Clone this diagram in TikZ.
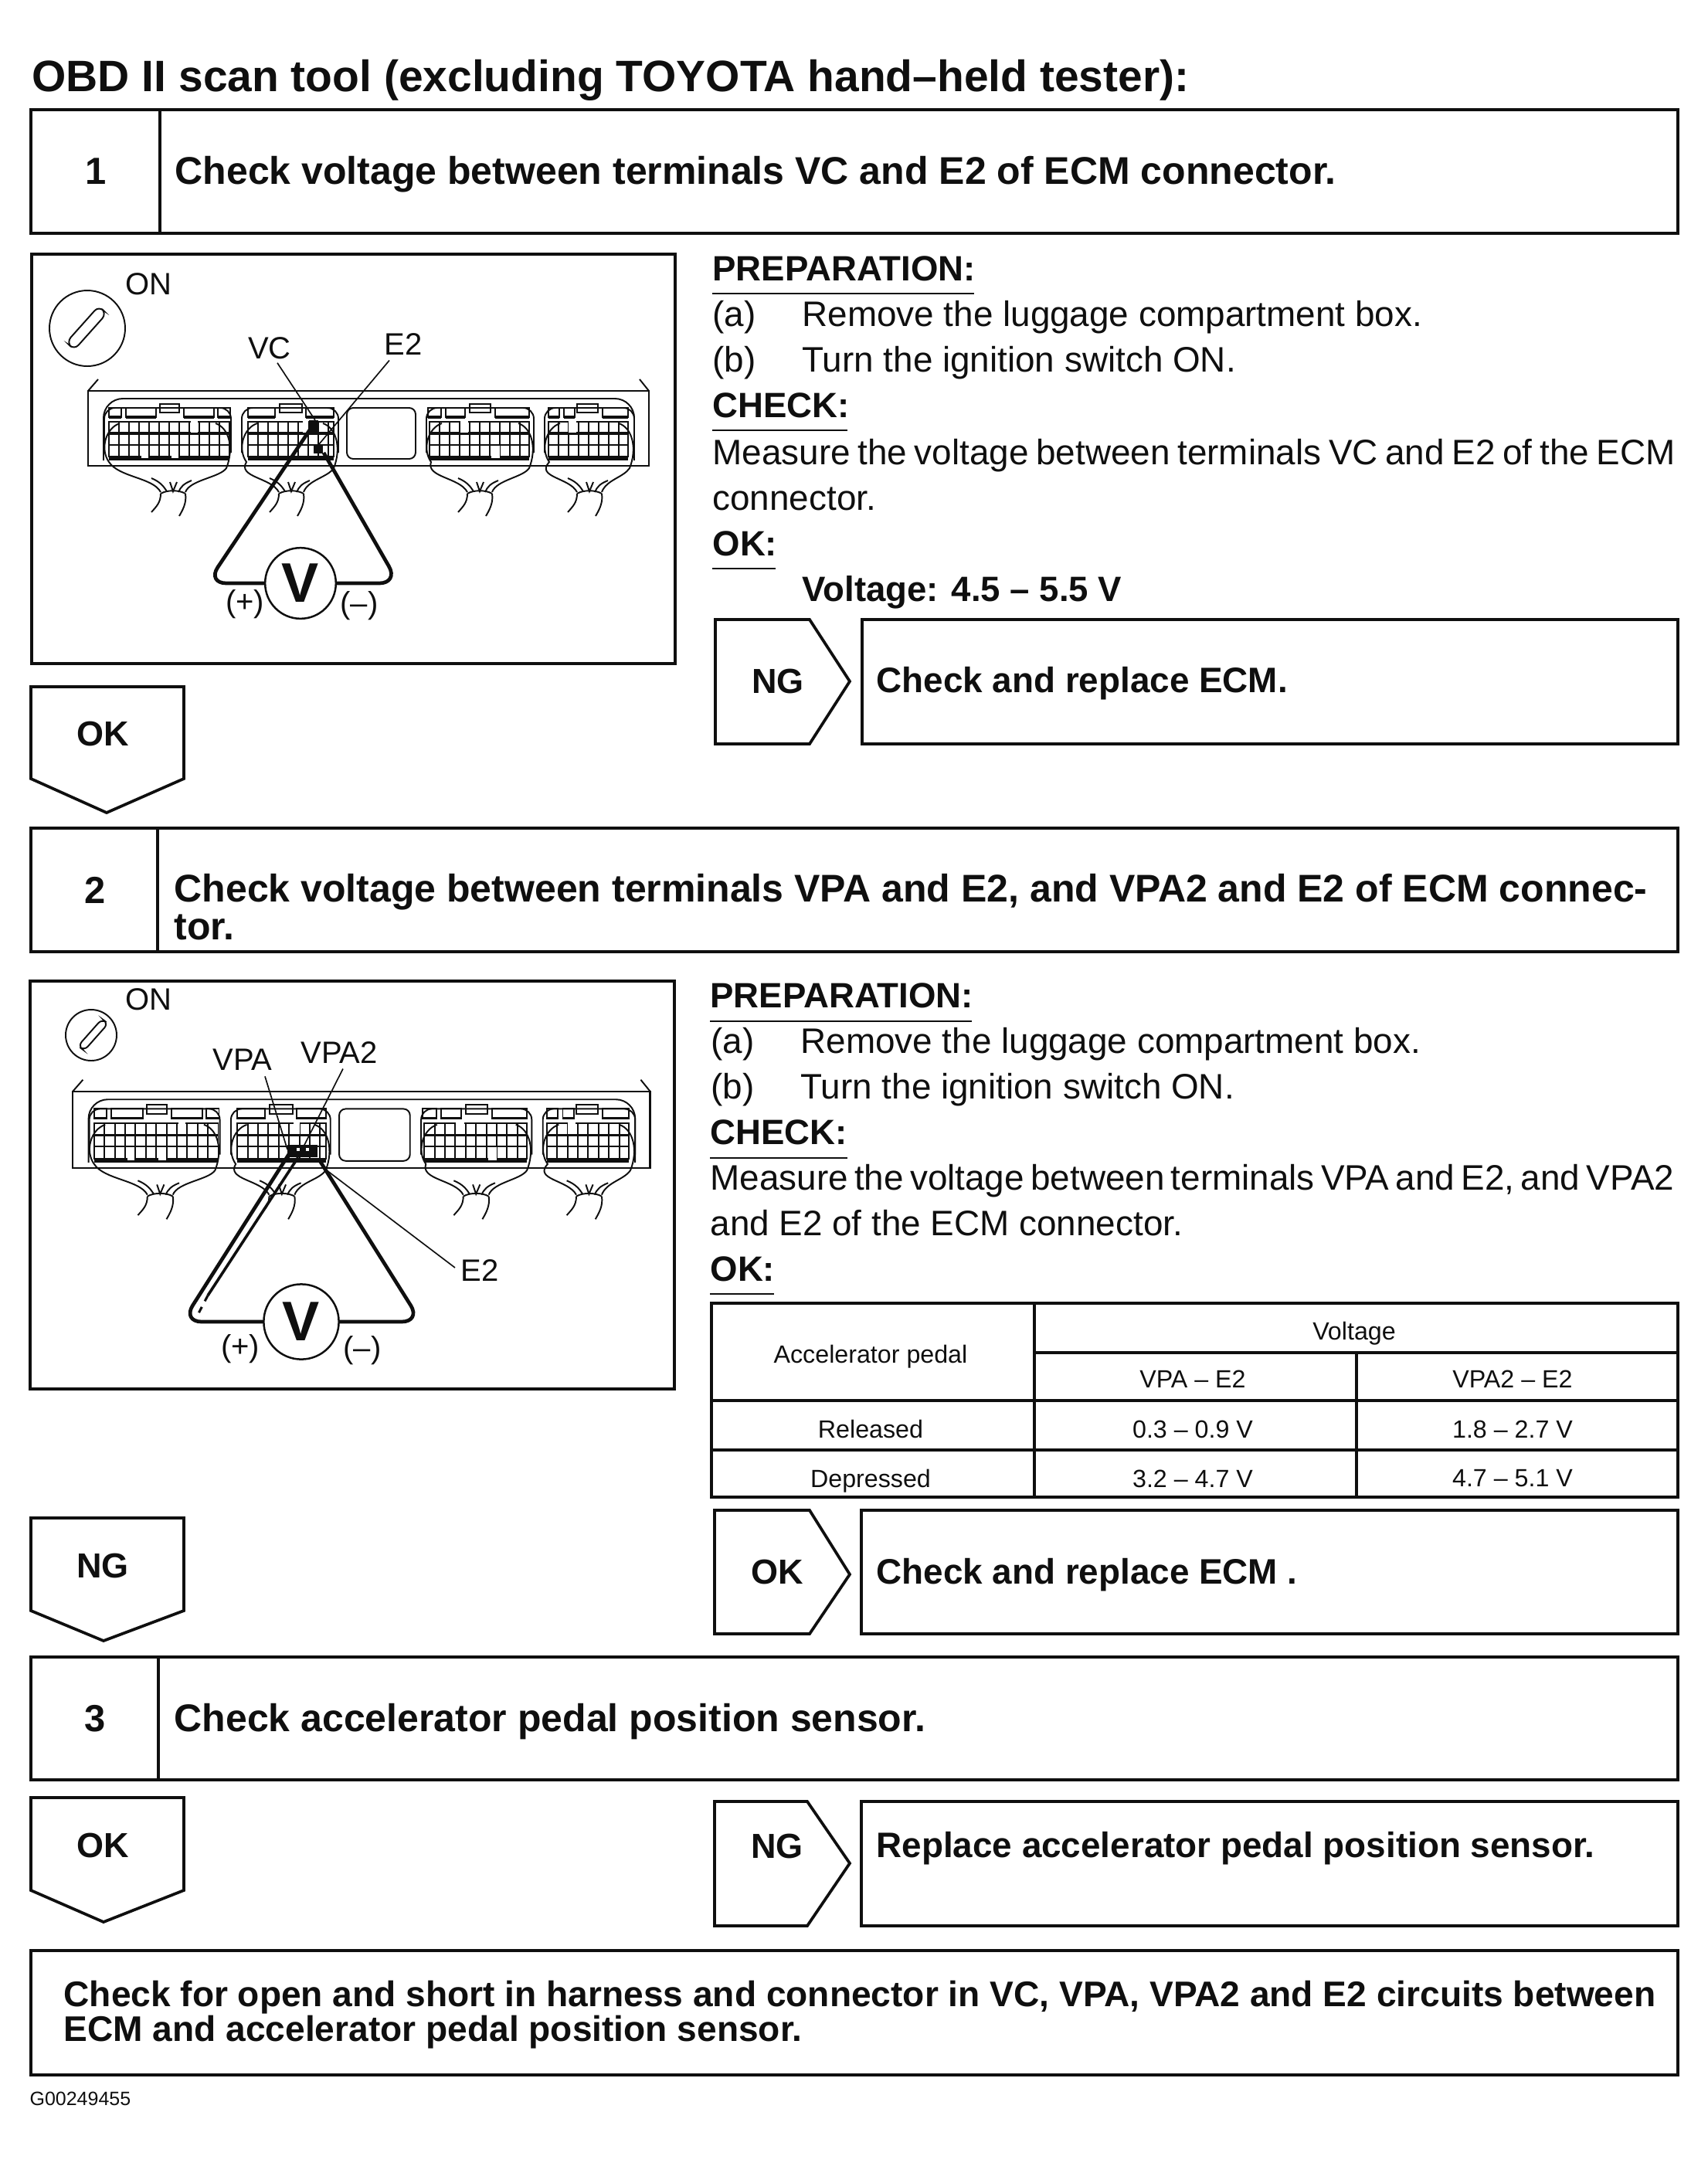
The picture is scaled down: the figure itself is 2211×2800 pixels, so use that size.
\documentclass[tikz,border=0pt]{standalone}
\usepackage{fontspec}
\setmainfont{Liberation Sans}
\usepackage{xcolor}
\definecolor{ink}{RGB}{15,15,15}

% one loom leaving an ECU connector: left, right, sleeve centre
\newcommand{\harness}[3]{%
  \draw[eculine] (#1+20,42) .. controls (#1+2,48) and (#1-6,75) .. (#1+6,92)
    .. controls (#3-70,112) and (#3-26,112) .. (#3-16,131);
  \draw[eculine] (#2-20,42) .. controls (#2-2,48) and (#2+4,75) .. (#2-6,100)
    .. controls (#2-14,112) and (#3+22,115) .. (#3+16,131);
  \draw[eculine] (#3-16,133) .. controls (#3-8,128) and (#3+8,128) .. (#3+16,133);
  \draw[eculine] (#3-16,133) .. controls (#3-16,145) and (#3-22,150) .. (#3-28,157);
  \draw[eculine] (#3+16,133) .. controls (#3+18,145) and (#3+12,155) .. (#3+8,162);
  \draw[eculine] (#3-28,113) .. controls (#3-16,118) and (#3-12,124) .. (#3-8,130);
  \draw[eculine] (#3-4,118) -- (#3,130) -- (#3+5,118);
  \draw[eculine] (#3+24,116) .. controls (#3+14,120) and (#3+10,124) .. (#3+7,131);
}
% cavity grid of a connector
\newcommand{\pingrid}[2]{%
  \draw[eculine] (#1,40) rectangle (#2,85);
  \draw[eculine, line width=1.1pt] (#1,55) -- (#2,55);
  \draw[eculine] (#1,70) -- (#2,70);
  \pgfmathtruncatemacro{\ncols}{(#2-#1)/13}
  \foreach \k in {1,...,\ncols} \draw[eculine] ({#1+13*\k},40) -- ({#1+13*\k},85);
  \draw[eculine, line width=1.6pt] (#1,88) -- (#2,88);
}
% whole ECU front, drawn from its top left corner
\newcommand{\ecubody}{%
  \draw[eculine] (0,0) -- (13,-15);
  \draw[eculine] (726,0) -- (714,-15);
  \draw[eculine, line width=1pt] (0,0) rectangle (726,97);
  \draw[eculine, rounded corners=9] (20,90) -- (20,10) -- (707,10) -- (707,90);
  \draw[eculine, rounded corners=3] (335,22) rectangle (424,88);
  \foreach \la/\lb in {21/185, 199/324, 438/577, 591/707}
    \draw[eculine, rounded corners=5] (\la,80) -- (\la,22) -- (\lb,22) -- (\lb,80);
  \pingrid{27}{183}
  \pingrid{207}{318}
  \pingrid{442}{571}
  \pingrid{596}{699}
  % missing cavities
  \foreach \ga/\gb in {132/143, 277/286, 481/493, 621/633}
    \fill[white] (\ga+1,38) rectangle (\gb-1,54);
  \foreach \ga/\gb in {68/79, 107/118, 521/534}
    \fill[white] (\ga+1,71) rectangle (\gb-1,87);
  % latches
  \foreach \ga/\gb in {27/43, 49/88, 124/163, 168/184, 207/242, 282/318, 440/457, 463/488, 527/571, 596/610, 616/630, 666/699} {
    \draw[eculine] (\ga,22) rectangle (\gb,34);
    \draw[eculine, line width=1.2pt] (\ga,34) -- (\gb,34);
  }
  \foreach \ga/\gb in {93/118, 248/277, 494/521, 633/660}
    \draw[eculine] (\ga,17) rectangle (\gb,28);
  \harness{21}{185}{110}
  \harness{199}{324}{263}
  \harness{438}{577}{507}
  \harness{591}{707}{649}
}

\begin{document}
\begin{tikzpicture}[x=0.36pt, y=-0.36pt,
    frame/.style={draw=ink, line width=1.35pt},
    eculine/.style={draw=ink, line width=0.7pt},
    probe/.style={draw=ink, line width=1.7pt, rounded corners=9pt},
    leader/.style={draw=ink, line width=0.6pt},
    heading/.style={inner sep=0, anchor=base west, text=ink, font=\fontsize{18pt}{18pt}\selectfont\bfseries},
    result/.style={inner sep=0, anchor=base west, text=ink, font=\fontsize{16.5pt}{18pt}\selectfont\bfseries},
    numlabel/.style={inner sep=0, text=ink, font=\fontsize{17.6pt}{18pt}\selectfont\bfseries},
    taglabel/.style={inner sep=0, text=ink, font=\fontsize{16.2pt}{18pt}\selectfont\bfseries},
    bodytext/.style={inner sep=0, anchor=base west, text=ink, align=left, font=\fontsize{16.5pt}{21.4pt}\selectfont},
    subhead/.style={inner sep=0, anchor=base west, text=ink, font=\fontsize{16.4pt}{21.4pt}\selectfont\bfseries},
    callout/.style={inner sep=0, text=ink, font=\fontsize{14.4pt}{16pt}\selectfont},
    cell/.style={inner sep=0, text=ink, font=\fontsize{11.6pt}{14pt}\selectfont},
    meter/.style={circle, draw=ink, line width=0.9pt, inner sep=0, minimum size=33pt, text=ink, font=\fontsize{26pt}{28pt}\selectfont\bfseries}]
  \useasboundingbox (0,0) rectangle (2211,2800);

  \node[inner sep=0, anchor=base west, text=ink, font=\fontsize{20.5pt}{24pt}\selectfont\bfseries] (title) at (41,118)
    {OBD II scan tool (excluding TOYOTA hand–held tester):};

  % Step 1
  \draw[frame] (40,142) rectangle (2172,302);
  \draw[frame] (207,142) -- (207,302);
  \node[numlabel] (num1) at (124,222) {1};
  \node[heading] (head1) at (226,238) {Check voltage between terminals VC and E2 of ECM connector.};

  % Wiring picture 1
  \draw[frame] (41,329) rectangle (874,859);
  \draw[eculine] (113,425) circle (49);
  \draw[eculine, rounded corners=3pt] (86,443) -- (128,396) -- (138,406) -- (96,453) -- cycle;
  \node[callout] (on1) at (192,368) {ON};
  \begin{scope}[shift={(114,506)}]
    \ecubody
    \fill[ink] (286,38) rectangle (298,53);
    \fill[ink] (292,71) rectangle (304,81);
  \end{scope}
  \node[callout] (vc) at (349,451) {VC};
  \node[callout] (e2a) at (522,446) {E2};
  \coordinate (vcpin) at (408,544);
  \coordinate (e2pin) at (413,575);
  \draw[leader] (vc.south) ++(10,4) -- (vcpin);
  \draw[leader] (e2a.south) ++(-18,6) -- (e2pin);
  \node[meter] (vm1) at (389,755) {V};
  \draw[probe] (vm1.west) -- (268,755) -- (408,546);
  \draw[probe] (vm1.east) -- (516,755) -- (419,586);
  \node[callout] (plus1) at (317,782) {(+)};
  \node[callout] (minus1) at (465,784) {(–)};

  % Preparation 1
  \node[subhead] (prep1) at (922,363) {PREPARATION:};
  \draw[eculine, line width=0.9pt] (922,380) -- (1261,380);
  \node[bodytext] (a1) at (922,422) {(a)};
  \node[bodytext] (a1t) at (1038,422) {Remove the luggage compartment box.};
  \node[bodytext] (b1) at (922,481) {(b)};
  \node[bodytext] (b1t) at (1038,481) {Turn the ignition switch ON.};
  \node[subhead] (check1) at (922,540) {CHECK:};
  \draw[eculine, line width=0.9pt] (922,557) -- (1097,557);
  \node[bodytext] (meas1) at (922,601) {\spaceskip=3.5pt\relax Measure the voltage between terminals VC and E2 of the ECM};
  \node[bodytext] (meas1b) at (922,660) {connector.};
  \node[subhead] (ok1) at (922,719) {OK:};
  \draw[eculine, line width=0.9pt] (922,736) -- (1004,736);
  \node[subhead] (volt1) at (1038,778) {Voltage: 4.5 – 5.5 V};

  % Result 1
  \node[taglabel] (ngtag1) at (1007,882) {NG};
  \draw[frame] (926,802) -- (1048,802) -- (1100,882) -- (1048,963) -- (926,963) -- cycle;
  \draw[frame] (1116,802) rectangle (2172,963);
  \node[result] (res1) at (1134,896) {Check and replace ECM.};
  \node[taglabel] (oktag1) at (133,950) {OK};
  \draw[frame] (40,889) -- (238,889) -- (238,1008) -- (138,1052) -- (40,1008) -- cycle;

  % Step 2
  \draw[frame] (40,1072) rectangle (2172,1232);
  \draw[frame] (204,1072) -- (204,1232);
  \node[numlabel] (num2) at (123,1152) {2};
  \node[heading] (head2) at (225,1167) {Check voltage between terminals VPA and E2, and VPA2 and E2 of ECM connec-};
  \node[heading] (head2b) at (225,1216) {tor.};

  % Wiring picture 2
  \draw[frame] (39,1270) rectangle (873,1798);
  \draw[eculine] (118,1340) circle (33);
  \draw[eculine, rounded corners=2.5pt] (101,1354) -- (132,1319) -- (140,1325) -- (109,1360) -- cycle;
  \node[callout] (on2) at (192,1294) {ON};
  \begin{scope}[shift={(94,1413)}, xscale=1.03, yscale=1.02]
    \ecubody
  \end{scope}
  \fill[ink] (372,1482) rectangle (411,1498);
  \fill[white] (384,1486) rectangle (388,1490);
  \fill[white] (396,1486) rectangle (400,1490);
  \node[callout] (vpa) at (314,1372) {VPA};
  \node[callout] (vpa2) at (439,1363) {VPA2};
  \node[callout] (e2b) at (621,1645) {E2};
  \coordinate (vpapin) at (372,1488);
  \coordinate (vpa2pin) at (391,1488);
  \coordinate (e2bpin) at (419,1512);
  \draw[leader] (vpa.south) ++(29,7) -- (vpapin);
  \draw[leader] (vpa2.south) ++(5,6) -- (vpa2pin);
  \draw[leader] (e2b.west) ++(-7,-4) -- (e2bpin);
  \node[meter, minimum size=35pt] (vm2) at (390,1711) {V};
  \draw[probe] (vm2.west) -- (236,1711) -- (374,1494);
  \draw[probe, line width=1.3pt] (269,1677) -- (386,1498);
  \draw[ink, line width=1.1pt, dashed] (269,1677) -- (256,1702);
  \draw[probe] (vm2.east) -- (545,1711) -- (413,1501);
  \node[callout] (plus2) at (311,1746) {(+)};
  \node[callout] (minus2) at (469,1748) {(–)};

  % Preparation 2
  \node[subhead] (prep2) at (919,1304) {PREPARATION:};
  \draw[eculine, line width=0.9pt] (919,1322) -- (1258,1322);
  \node[bodytext] (a2) at (920,1363) {(a)};
  \node[bodytext] (a2t) at (1036,1363) {Remove the luggage compartment box.};
  \node[bodytext] (b2) at (920,1422) {(b)};
  \node[bodytext] (b2t) at (1036,1422) {Turn the ignition switch ON.};
  \node[subhead] (check2) at (919,1481) {CHECK:};
  \draw[eculine, line width=0.9pt] (919,1499) -- (1097,1499);
  \node[bodytext] (meas2) at (919,1540) {\spaceskip=3pt\relax Measure the voltage between terminals VPA and E2, and VPA2};
  \node[bodytext] (meas2b) at (919,1599) {and E2 of the ECM connector.};
  \node[subhead] (ok2) at (919,1658) {OK:};
  \draw[eculine, line width=0.9pt] (919,1675) -- (1002,1675);

  % Voltage table
  \draw[frame] (921,1687) rectangle (2172,1938);
  \draw[frame] (1339,1687) -- (1339,1938);
  \draw[frame] (1339,1751) -- (2172,1751);
  \draw[frame] (1756,1751) -- (1756,1938);
  \draw[frame] (921,1813) -- (2172,1813);
  \draw[frame] (921,1877) -- (2172,1877);
  \node[cell] (tabh) at (1127,1756) {Accelerator pedal};
  \node[cell] (tabv) at (1753,1726) {Voltage};
  \node[cell] (tabva) at (1544,1785) {VPA – E2};
  \node[cell] (tabvb) at (1958,1785) {VPA2 – E2};
  \node[cell] (rowa) at (1127,1850) {Released};
  \node[cell] (rowb) at (1127,1917) {Depressed};
  \node[cell] (rowa1) at (1544,1850) {0.3 – 0.9 V};
  \node[cell] (rowa2) at (1958,1850) {1.8 – 2.7 V};
  \node[cell] (rowb1) at (1544,1914) {3.2 – 4.7 V};
  \node[cell] (rowb2) at (1958,1914) {4.7 – 5.1 V};

  % Result 2
  \node[taglabel] (oktag2) at (1006,2035) {OK};
  \draw[frame] (925,1955) -- (1048,1955) -- (1100,2038) -- (1048,2115) -- (925,2115) -- cycle;
  \draw[frame] (1115,1955) rectangle (2172,2115);
  \node[result] (res2) at (1134,2050) {Check and replace ECM .};
  \node[taglabel] (ngtag2) at (133,2027) {NG};
  \draw[frame] (40,1965) -- (238,1965) -- (238,2085) -- (134,2124) -- (40,2085) -- cycle;

  % Step 3
  \draw[frame] (40,2145) rectangle (2172,2304);
  \draw[frame] (205,2145) -- (205,2304);
  \node[numlabel] (num3) at (123,2225) {3};
  \node[heading] (head3) at (225,2241) {Check accelerator pedal position sensor.};
  \node[taglabel] (oktag3) at (133,2389) {OK};
  \draw[frame] (40,2327) -- (238,2327) -- (238,2447) -- (134,2488) -- (40,2447) -- cycle;
  \node[taglabel] (ngtag3) at (1006,2390) {NG};
  \draw[frame] (925,2332) -- (1045,2332) -- (1100,2412) -- (1045,2493) -- (925,2493) -- cycle;
  \draw[frame] (1115,2332) rectangle (2172,2493);
  \node[result] (res3) at (1134,2404) {Replace accelerator pedal position sensor.};

  % Final check
  \draw[frame] (40,2525) rectangle (2172,2686);
  \node[result, font=\fontsize{16.6pt}{18pt}\selectfont\bfseries] (end1) at (82,2597) {Check for open and short in harness and connector in VC, VPA, VPA2 and E2 circuits between};
  \node[result, font=\fontsize{16.6pt}{18pt}\selectfont\bfseries] (end2) at (82,2642) {ECM and accelerator pedal position sensor.};

  \node[inner sep=0, anchor=base west, text=ink, font=\fontsize{9pt}{10pt}\selectfont] (figid) at (38,2725) {G00249455};
\end{tikzpicture}
\end{document}
